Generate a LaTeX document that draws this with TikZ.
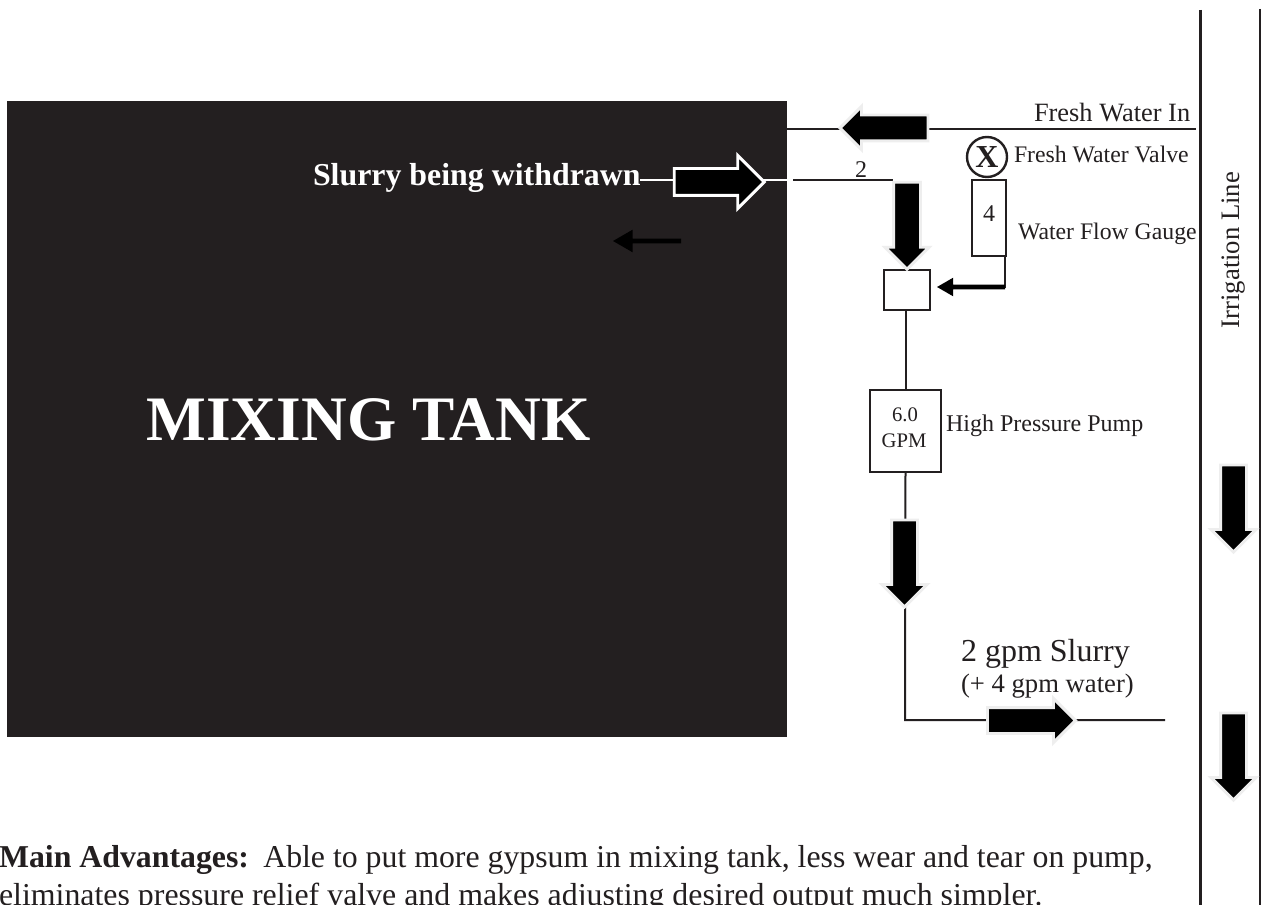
\documentclass[tikz,border=0pt]{standalone}
\usepackage{fontspec}
\setmainfont{Liberation Serif}
\usetikzlibrary{shapes.arrows}
\definecolor{ink}{HTML}{231F20}
\definecolor{halo}{HTML}{EEEEEE}
\newcommand{\fs}[1]{\fontsize{#1}{#1}\selectfont}
\tikzset{
  x=0.75pt,y=-0.75pt,
  pipe/.style={draw=ink,line width=1.6pt},
  thinpipe/.style={draw=ink,line width=1.5pt},
  box/.style={draw=ink,line width=1.8pt,fill=white,inner sep=0pt,outer sep=0pt},
  lbl/.style={text=ink,inner sep=0pt,outer sep=0pt,anchor=base west},
  clbl/.style={text=ink,inner sep=0pt,outer sep=0pt,anchor=base},
  flow/.style n args={4}{single arrow,fill=black,draw=#4,line width=2.2pt,outer sep=0pt,
    inner sep=#2*0.375pt,minimum height=#1*0.75pt,
    single arrow head extend=#3*0.75pt,single arrow head indent=0pt},
  slim/.style n args={3}{single arrow,fill=black,outer sep=0pt,
    inner sep=#2*0.375pt,minimum height=#1*0.75pt,
    single arrow head extend=#3*0.75pt,single arrow head indent=0pt,single arrow tip angle=60},
}
\begin{document}
\begin{tikzpicture}
\useasboundingbox (0,0) rectangle (1261,905);
\clip (0,0) rectangle (1261,905);
\fill[white] (0,0) rectangle (1261,905);
% tank
\node[fill=ink,inner sep=0pt,outer sep=0pt,minimum width=780*0.75pt,minimum height=636*0.75pt] (tank) at (397,419) {};
\node[text=white,font=\bfseries\fs{47.5},inner sep=0pt,anchor=base] (tanklabel) at (368.5,441) {MIXING TANK};
% free ends
\coordinate (freshin) at (1196,129);
\coordinate (tankfresh) at (787,129);
\coordinate (tankslurry) at (787,180);
\coordinate (slurrystart) at (793,180);
\coordinate (slurryend) at (893,180);
\coordinate (outcorner) at (905,720);
\coordinate (outend) at (1165,720);
\coordinate (gaugecorner) at (1004.5,288);
\coordinate (gaugedrop) at (1004.5,256);
\coordinate (irtop) at (1200.7,10);
\coordinate (irbot) at (1200.7,905);
\coordinate (r1) at (1260,9);
\coordinate (r2) at (1260,905);
% boxes
\node[box,minimum width=46*0.75pt,minimum height=40*0.75pt] (mixer) at (907,290) {};
\node[box,minimum width=34*0.75pt,minimum height=76*0.75pt] (gauge) at (989,218) {};
\node[box,minimum width=71*0.75pt,minimum height=82*0.75pt] (pump) at (905.5,431) {};
\node[box,circle,minimum size=40*0.75pt,fill=none] (valve) at (987,157) {};
% labels
\node[text=ink,font=\bfseries\fs{24},inner sep=0pt] (valvex) at (valve) {X};
\node[lbl,font=\fs{18}] (gaugeval) at (983,222) {4};
\node[clbl,font=\fs{15.5}] (pumpa) at (905,422) {6.0};
\node[clbl,font=\fs{15.5}] (pumpb) at (904,448) {GPM};
\node[lbl,text=white,font=\bfseries\fs{23.9}] (slurrytext) at (313,186) {Slurry being withdrawn};
\coordinate (slurrytextend) at (640,180);
\node[lbl,font=\fs{19.8}] (t1) at (1034,122) {Fresh Water In};
\node[lbl,font=\fs{17.8}] (t2) at (1014,163) {Fresh Water Valve};
\node[lbl,font=\fs{17.8}] (t3) at (1018,240) {Water Flow Gauge};
\node[lbl,font=\fs{18}] (t4) at (946,432) {High Pressure Pump};
\node[lbl,font=\fs{24}] (t5) at (961,661) {2 gpm Slurry};
\node[lbl,font=\fs{20}] (t6) at (961,692) {(+ 4 gpm water)};
\node[lbl,font=\fs{18}] (t7) at (855,178) {2};
\node[text=ink,font=\fs{20},inner sep=0pt,rotate=90,anchor=center] (t8) at (1234,250) {Irrigation Line};
\node[lbl,font=\fs{23.85}] (t9) at (-1,867) {\textbf{Main Advantages:}\hspace{0.45em}Able to put more gypsum in mixing tank, less wear and tear on pump,};
\node[lbl,font=\fs{23.9}] (t10) at (-1,905) {eliminates pressure relief valve and makes adjusting desired output much simpler.};
% connectors
\draw[pipe] (tankfresh) -- (freshin);
\draw[pipe] (slurrystart) -- (slurryend);
\draw[draw=white,line width=1.6pt] (slurrytextend) -- (tankslurry);
\draw[thinpipe] (mixer.south -| pump.north) -- (pump.north);
\draw[thinpipe] (pump.south) -- (outcorner) -- (outend);
\draw[draw=ink,line width=2pt] (irtop) -- (irbot);
\draw[draw=ink,line width=0.9pt] (r1) -- (r2);
\draw[thinpipe] (gaugedrop) -- (gaugecorner);
% arrows
\node[flow={88}{23}{8.5}{halo},shape border rotate=180] (fresharrow) at (890.5,128) {};
\node[flow={90}{24}{13}{white},shape border rotate=0] (slurryarrow) at (712.5,182) {};
\node[flow={87}{24}{8.5}{halo},shape border rotate=270] (downa) at (907,219) {};
\node[flow={87}{23}{9.5}{halo},shape border rotate=270] (downb) at (904.5,557) {};
\node[flow={88}{23}{9}{halo},shape border rotate=0] (outarrow) at (1025,720.5) {};
\node[flow={87}{23}{9.5}{halo},shape border rotate=270] (ira) at (1233.5,502) {};
\node[flow={87}{23}{9.5}{halo},shape border rotate=270] (irb) at (1233.5,750) {};
\node[slim={68}{4}{9},shape border rotate=180] (insidearrow) at (649,241) {};
\node[slim={68}{4}{7},shape border rotate=180] (gaugearrow) at (973,287) {};
\end{tikzpicture}
\end{document}
